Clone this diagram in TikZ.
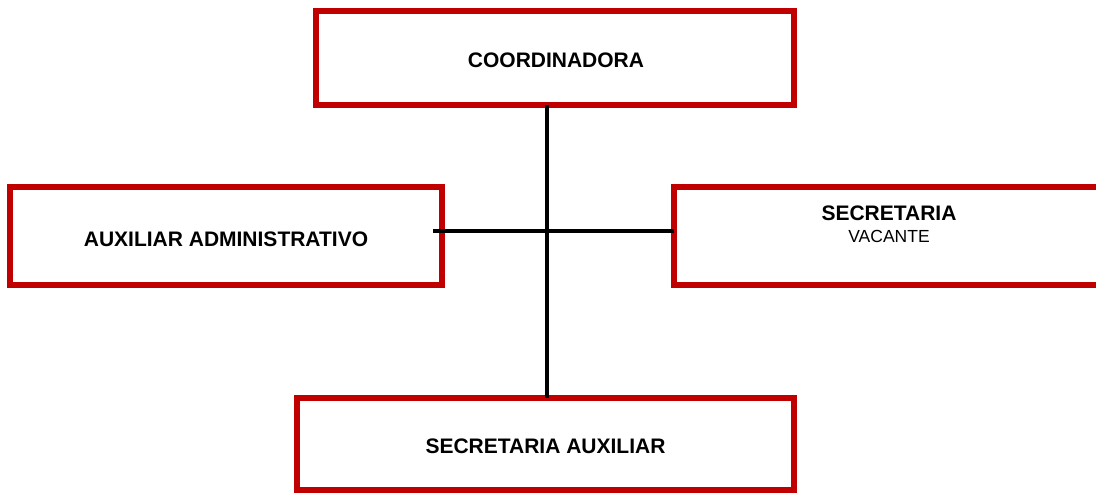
\documentclass[tikz,border=0pt]{standalone}
\usepackage{fontspec}
\setmainfont{Liberation Sans}
\definecolor{boxred}{RGB}{192,0,0}
\begin{document}
\begin{tikzpicture}[x=1pt,y=-1pt,
  orgbox/.style={draw=boxred,line width=6pt,fill=white,rectangle,outer sep=0pt,inner sep=0pt},
  boxtext/.style={font=\fontsize{21}{22}\selectfont\bfseries,inner sep=0pt},
  conn/.style={draw=black,line width=4pt}]
\useasboundingbox (0,0) rectangle (1096,493);
\clip (0,0) rectangle (1096,493);
\node[orgbox,minimum width=478pt,minimum height=94pt] (coord) at (555,58) {};
\node[boxtext] (coordt) at (556,60) {COORDINADORA};
\node[orgbox,minimum width=432pt,minimum height=98pt] (aux) at (226,236) {};
\node[boxtext] (auxt) at (226,239) {AUXILIAR ADMINISTRATIVO};
\node[orgbox,minimum width=446pt,minimum height=98pt] (sec) at (897,236) {};
\node[align=center,anchor=base,inner sep=0pt,font=\fontsize{21}{22}\selectfont] (sect) at (889,242)
  {\textbf{SECRETARIA}\\{\fontsize{17.5}{22}\selectfont VACANTE}};
\node[orgbox,minimum width=497pt,minimum height=92pt] (secaux) at (545.5,444) {};
\node[boxtext] (secauxt) at (545.5,446) {SECRETARIA AUXILIAR};
\coordinate (j) at (547,231);
\draw[conn] (j |- coord.south) -- (j |- secaux.north);
\draw[conn] ([xshift=-9pt]aux.east |- j) -- (sec.west |- j);
\end{tikzpicture}
\end{document}
